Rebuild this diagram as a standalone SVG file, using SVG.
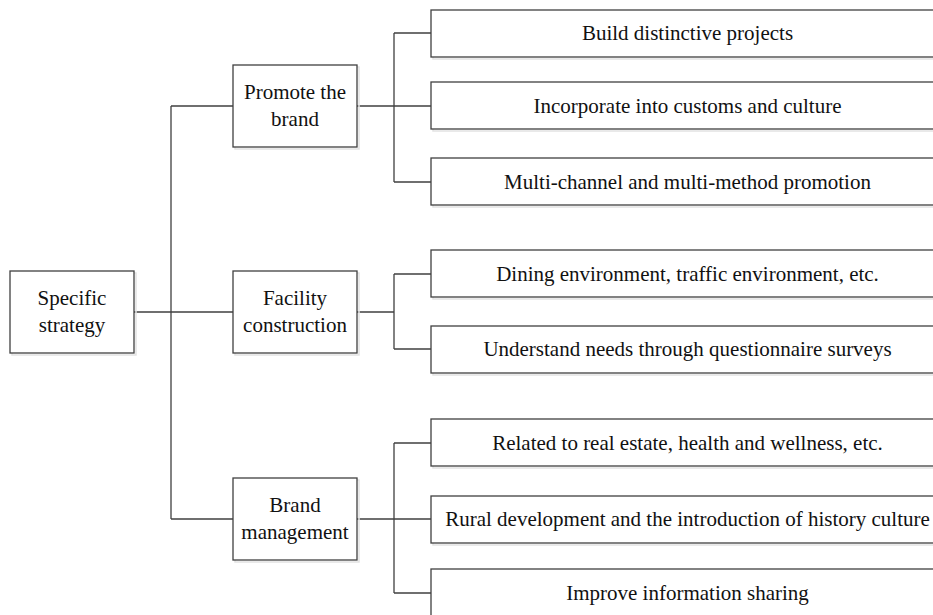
<svg xmlns="http://www.w3.org/2000/svg" width="933" height="615" viewBox="0 0 933 615">
<style>
.box{fill:#fff;stroke:#404040;stroke-width:1.3}
.sh{fill:none;stroke:#e2e2e2;stroke-width:1.5}
.c{fill:none;stroke:#404040;stroke-width:1.3}
</style>
<rect width="933" height="615" fill="#fff"/>
<g id="connectors">
<path class="c" d="M134,312H233M171,106V519M171,106H233M171,519H233"/>
<path class="c" d="M357,106H431M394,33V182M394,33H431M394,182H431"/>
<path class="c" d="M357,312H394M394,274V349M394,274H431M394,349H431"/>
<path class="c" d="M357,519H431M394,443V593M394,443H431M394,593H431"/>
</g>
<g id="root"><rect class="sh" x="12" y="273" width="124" height="82"/><rect class="box" x="10" y="271" width="124" height="82"/><text font-family="Liberation Serif" font-size="21" fill="#111" text-anchor="middle" x="72" y="305">Specific</text><text font-family="Liberation Serif" font-size="21" fill="#111" text-anchor="middle" x="72" y="332">strategy</text></g>
<g id="promote"><rect class="sh" x="235" y="67" width="124" height="82"/><rect class="box" x="233" y="65" width="124" height="82"/><text font-family="Liberation Serif" font-size="21" fill="#111" text-anchor="middle" x="295" y="99">Promote the</text><text font-family="Liberation Serif" font-size="21" fill="#111" text-anchor="middle" x="295" y="126">brand</text></g>
<g id="facility"><rect class="sh" x="235" y="273" width="124" height="82"/><rect class="box" x="233" y="271" width="124" height="82"/><text font-family="Liberation Serif" font-size="21" fill="#111" text-anchor="middle" x="295" y="305">Facility</text><text font-family="Liberation Serif" font-size="21" fill="#111" text-anchor="middle" x="295" y="332">construction</text></g>
<g id="brandmgmt"><rect class="sh" x="235" y="480" width="124" height="82"/><rect class="box" x="233" y="478" width="124" height="82"/><text font-family="Liberation Serif" font-size="21" fill="#111" text-anchor="middle" x="295" y="512">Brand</text><text font-family="Liberation Serif" font-size="21" fill="#111" text-anchor="middle" x="295" y="539">management</text></g>
<g id="leaf1"><rect class="sh" x="433" y="12" width="520" height="47"/><rect class="box" x="431" y="10" width="520" height="47"/><text font-family="Liberation Serif" font-size="21" fill="#111" text-anchor="middle" x="687.5" y="40">Build distinctive projects</text></g>
<g id="leaf2"><rect class="sh" x="433" y="84" width="520" height="47"/><rect class="box" x="431" y="82" width="520" height="47"/><text font-family="Liberation Serif" font-size="21" fill="#111" text-anchor="middle" x="687.5" y="113">Incorporate into customs and culture</text></g>
<g id="leaf3"><rect class="sh" x="433" y="160" width="520" height="47"/><rect class="box" x="431" y="158" width="520" height="47"/><text font-family="Liberation Serif" font-size="21" fill="#111" text-anchor="middle" x="687.5" y="189">Multi-channel and multi-method promotion</text></g>
<g id="leaf4"><rect class="sh" x="433" y="252" width="520" height="47"/><rect class="box" x="431" y="250" width="520" height="47"/><text font-family="Liberation Serif" font-size="21" fill="#111" text-anchor="middle" x="687.5" y="281">Dining environment, traffic environment, etc.</text></g>
<g id="leaf5"><rect class="sh" x="433" y="328" width="520" height="47"/><rect class="box" x="431" y="326" width="520" height="47"/><text font-family="Liberation Serif" font-size="21" fill="#111" text-anchor="middle" x="687.5" y="356">Understand needs through questionnaire surveys</text></g>
<g id="leaf6"><rect class="sh" x="433" y="421" width="520" height="47"/><rect class="box" x="431" y="419" width="520" height="47"/><text font-family="Liberation Serif" font-size="21" fill="#111" text-anchor="middle" x="687.5" y="450">Related to real estate, health and wellness, etc.</text></g>
<g id="leaf7"><rect class="sh" x="433" y="498" width="520" height="47"/><rect class="box" x="431" y="496" width="520" height="47"/><text font-family="Liberation Serif" font-size="21" fill="#111" text-anchor="middle" x="687.5" y="526">Rural development and the introduction of history culture</text></g>
<g id="leaf8"><rect class="sh" x="433" y="571" width="520" height="47"/><rect class="box" x="431" y="569" width="520" height="47"/><text font-family="Liberation Serif" font-size="21" fill="#111" text-anchor="middle" x="687.5" y="600">Improve information sharing</text></g>
</svg>
